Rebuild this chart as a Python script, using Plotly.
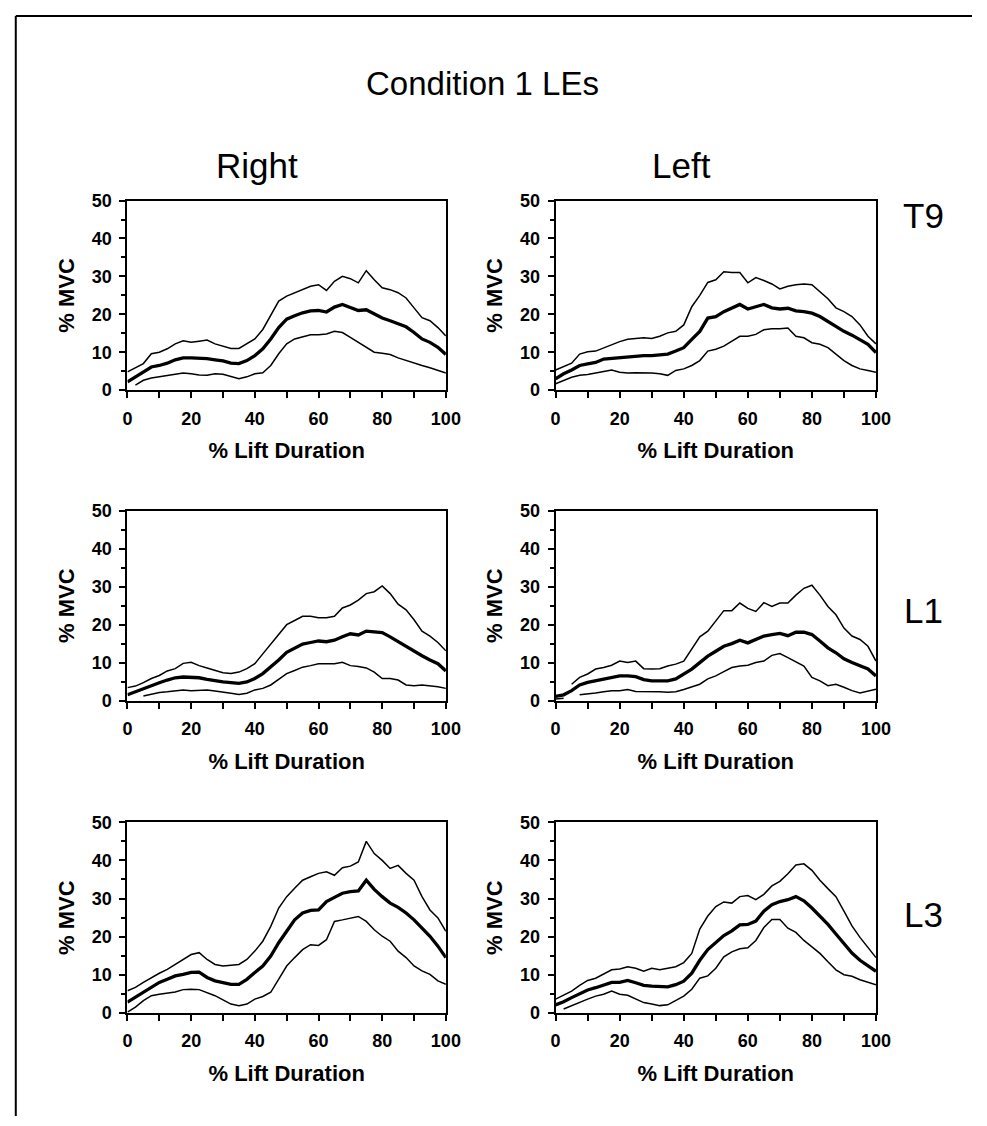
import plotly.graph_objects as go

# % lift duration sample points
lift_pct = [0, 2.5, 5, 7.5, 10, 12.5, 15, 17.5, 20, 22.5, 25, 27.5, 30, 32.5, 35, 37.5, 40,
            42.5, 45, 47.5, 50, 52.5, 55, 57.5, 60, 62.5, 65, 67.5, 70, 72.5, 75, 77.5, 80,
            82.5, 85, 87.5, 90, 92.5, 95, 97.5, 100]

# ---- Right T9 ----
right_t9_upper = [4.8, 5.8, 7.0, 9.6, 10.0, 10.9, 12.2, 13.0, 12.6, 12.9, 13.2, 12.2, 11.5, 11.0, 11.0, 12.2, 13.5,
                  16.0, 19.6, 23.5, 24.8, 25.7, 26.5, 27.4, 27.8, 26.3, 28.7, 30.0, 29.4, 28.3, 31.5, 29.1, 27.0,
                  26.5, 25.7, 24.3, 21.7, 19.1, 18.3, 16.5, 14.3]
right_t9_mean = [2.2, 3.5, 4.8, 6.1, 6.5, 7.1, 8.0, 8.5, 8.5, 8.5, 8.3, 8.0, 7.7, 7.1, 7.0, 7.8, 9.1,
                 10.9, 13.5, 16.5, 18.7, 19.6, 20.4, 20.9, 21.0, 20.6, 21.9, 22.6, 21.7, 21.0, 21.2, 20.0, 19.0,
                 18.3, 17.4, 16.7, 15.2, 13.5, 12.6, 11.3, 9.4]
right_t9_lower = [None, 1.3, 2.6, 3.2, 3.5, 3.7, 4.2, 4.5, 4.3, 4.0, 3.9, 4.3, 4.2, 3.5, 3.0, 3.5, 4.3,
                  4.6, 6.5, 9.6, 12.2, 13.5, 14.1, 14.6, 14.6, 14.8, 15.5, 15.2, 13.9, 12.6, 11.3, 10.0, 9.7,
                  9.4, 8.5, 7.8, 7.0, 6.5, 5.9, 5.2, 4.5]

# ---- Left T9 ----
left_t9_upper = [5.3, 6.2, 7.1, 9.5, 10.1, 10.3, 11.2, 12.1, 12.8, 13.4, 13.6, 13.8, 13.6, 14.2, 15.1, 15.5, 17.2,
                 22.0, 25.0, 28.4, 29.1, 31.2, 31.0, 31.0, 28.3, 29.7, 28.9, 28.0, 26.7, 27.4, 27.8, 28.0, 27.8,
                 25.9, 24.1, 21.7, 20.7, 19.4, 17.2, 14.2, 12.2]
left_t9_mean = [3.0, 4.3, 5.3, 6.5, 6.9, 7.3, 8.2, 8.4, 8.6, 8.8, 9.1, 9.1, 9.1, 9.3, 9.5, 10.3, 11.2,
                13.4, 15.5, 19.0, 19.4, 20.7, 21.6, 22.6, 21.4, 22.0, 22.6, 21.7, 21.4, 21.6, 20.9, 20.7, 20.3,
                19.4, 18.1, 16.8, 15.5, 14.5, 13.4, 12.1, 9.9]
left_t9_lower = [1.7, 2.6, 3.4, 3.9, 4.1, 4.5, 5.0, 5.3, 4.7, 4.5, 4.6, 4.6, 4.5, 4.3, 3.9, 5.2, 5.6,
                 6.5, 7.8, 10.3, 10.8, 11.6, 12.9, 14.2, 14.2, 14.7, 15.9, 16.2, 16.2, 16.4, 14.2, 13.8, 12.5,
                 12.1, 11.2, 9.5, 7.8, 6.5, 5.6, 5.2, 4.7]

# ---- Right L1 ----
right_l1_upper = [3.4, 3.8, 4.7, 5.8, 6.6, 7.8, 8.4, 9.8, 10.1, 9.2, 8.6, 7.9, 7.3, 7.1, 7.5, 8.4, 9.7,
                  12.3, 14.9, 17.4, 20.0, 21.1, 22.2, 22.2, 21.8, 21.8, 22.2, 24.4, 25.2, 26.5, 28.2, 28.7, 30.2,
                  28.2, 25.4, 23.9, 21.3, 18.3, 17.0, 15.3, 13.1]
right_l1_mean = [1.5, 2.3, 3.2, 4.1, 4.7, 5.4, 6.0, 6.2, 6.2, 6.0, 5.6, 5.2, 4.9, 4.7, 4.5, 4.9, 5.8,
                 7.1, 8.8, 10.7, 12.7, 13.8, 14.9, 15.3, 15.7, 15.5, 15.9, 16.8, 17.6, 17.3, 18.3, 18.1, 17.9,
                 16.8, 15.5, 14.4, 13.1, 11.8, 10.7, 9.7, 7.8]
right_l1_lower = [None, None, 1.2, 1.7, 2.1, 2.3, 2.6, 2.8, 2.6, 2.8, 2.8, 2.5, 2.1, 1.9, 1.6, 1.9, 2.8,
                  3.2, 4.1, 5.5, 7.1, 7.9, 8.8, 9.2, 9.7, 9.7, 9.7, 10.1, 9.2, 9.0, 8.6, 7.5, 5.8,
                  5.8, 5.4, 4.1, 3.9, 4.1, 3.9, 3.6, 3.2]

# ---- Left L1 ----
left_l1_upper = [None, None, 4.3, 6.1, 7.0, 8.3, 8.7, 9.3, 10.4, 10.0, 10.4, 8.4, 8.3, 8.4, 9.1, 9.6, 10.4,
                 13.5, 16.8, 18.3, 20.9, 23.7, 23.7, 25.7, 24.3, 23.5, 25.8, 24.8, 25.7, 25.7, 27.8, 29.6, 30.4,
                 27.8, 24.8, 22.6, 19.1, 17.0, 16.1, 14.3, 10.4]
left_l1_mean = [1.1, 1.5, 2.6, 4.1, 4.8, 5.2, 5.7, 6.1, 6.5, 6.5, 6.3, 5.5, 5.2, 5.2, 5.2, 5.7, 7.0,
                8.3, 10.0, 11.7, 13.0, 14.3, 15.0, 15.9, 15.2, 16.1, 17.0, 17.4, 17.7, 17.1, 18.0, 18.0, 17.4,
                15.7, 13.9, 12.6, 11.0, 10.0, 9.1, 8.3, 6.5]
left_l1_lower = [0.4, 0.6, None, 1.5, 1.7, 2.0, 2.3, 2.6, 2.6, 2.9, 2.4, 2.4, 2.3, 2.3, 2.2, 2.3, 2.9,
                 3.5, 4.3, 5.7, 6.5, 7.6, 8.7, 9.1, 9.3, 10.0, 10.4, 11.9, 12.4, 11.3, 10.2, 9.1, 6.1,
                 5.2, 3.9, 4.3, 3.5, 2.6, 2.0, 2.6, 3.0]

# ---- Right L3 ----
right_l3_upper = [5.8, 6.7, 8.0, 9.3, 10.4, 11.4, 12.7, 14.2, 15.3, 15.8, 14.0, 12.7, 12.3, 12.5, 12.7, 14.0, 16.2,
                  18.8, 22.7, 27.5, 30.5, 32.7, 34.8, 35.7, 36.6, 37.0, 36.1, 38.1, 38.5, 39.6, 45.0, 41.8, 40.0,
                  37.9, 38.7, 36.6, 34.8, 30.5, 27.0, 24.9, 21.4]
right_l3_mean = [2.8, 4.1, 5.5, 6.7, 8.0, 8.8, 9.7, 10.1, 10.6, 10.7, 9.3, 8.4, 8.0, 7.5, 7.5, 8.8, 10.6,
                 12.3, 14.9, 18.4, 21.4, 24.4, 26.2, 26.9, 27.0, 29.2, 30.3, 31.4, 31.8, 32.0, 34.8, 32.4, 30.5,
                 28.8, 27.7, 26.2, 24.4, 22.3, 20.1, 17.5, 14.5]
right_l3_lower = [0.2, 1.5, 3.2, 4.5, 4.9, 5.2, 5.5, 6.1, 6.2, 6.1, 5.4, 4.5, 3.4, 2.3, 1.9, 2.3, 3.6,
                  4.3, 5.4, 8.8, 12.3, 14.5, 16.6, 17.9, 17.7, 19.2, 24.0, 24.4, 24.9, 25.3, 24.0, 21.8, 20.1,
                  18.8, 16.2, 14.5, 12.3, 11.0, 10.1, 8.4, 7.5]

# ---- Left L3 ----
left_l3_upper = [3.6, 4.6, 5.7, 7.2, 8.5, 9.1, 10.3, 11.3, 11.5, 12.1, 11.7, 10.9, 11.7, 11.3, 11.7, 12.1, 13.2,
                 15.6, 22.0, 25.4, 27.9, 29.1, 28.8, 30.5, 30.8, 29.7, 31.1, 33.3, 34.5, 36.5, 38.8, 39.1, 37.4,
                 34.8, 32.6, 30.5, 26.7, 22.8, 19.8, 17.3, 14.5]
left_l3_mean = [2.1, 2.9, 4.0, 5.0, 6.0, 6.6, 7.2, 8.0, 8.0, 8.5, 7.9, 7.2, 7.0, 6.8, 6.8, 7.4, 8.3,
                10.4, 13.8, 16.6, 18.5, 20.3, 21.5, 23.1, 23.2, 24.1, 26.7, 28.4, 29.2, 29.7, 30.5, 29.4, 27.5,
                25.4, 23.2, 20.7, 18.1, 15.7, 13.8, 12.3, 10.9]
left_l3_lower = [None, 1.0, 1.9, 2.9, 3.6, 4.4, 4.9, 5.7, 4.9, 4.6, 3.6, 2.7, 2.3, 1.9, 2.1, 3.2, 4.4,
                 6.2, 9.1, 9.7, 11.7, 14.7, 16.0, 16.8, 17.1, 19.0, 22.4, 24.5, 24.5, 22.2, 21.1, 19.0, 17.3,
                 15.6, 13.4, 11.3, 10.0, 9.6, 8.7, 8.0, 7.4]

panels = [
    (right_t9_upper, right_t9_mean, right_t9_lower),
    (left_t9_upper, left_t9_mean, left_t9_lower),
    (right_l1_upper, right_l1_mean, right_l1_lower),
    (left_l1_upper, left_l1_mean, left_l1_lower),
    (right_l3_upper, right_l3_mean, right_l3_lower),
    (left_l3_upper, left_l3_mean, left_l3_lower),
]

W, H = 987, 1126
col_px = [(125, 450), (562, 889)]
row_px = [(194, 387), (510, 703), (827, 1021)]


def px_x(sx):
    return sx / W


def px_y(sy):
    return 1 - sy / H


fig = go.Figure()
FONT = "Liberation Sans, Arial, sans-serif"
TICKFONT = dict(family=FONT, size=18, color="black", weight="bold")
TITLEFONT = dict(family=FONT, size=22, color="black", weight="bold")

for i, (up, mn, lo) in enumerate(panels):
    r, c = divmod(i, 2)
    n = i + 1
    xa = "x" if n == 1 else f"x{n}"
    ya = "y" if n == 1 else f"y{n}"
    for vals, w in ((up, 1.5), (mn, 3.3), (lo, 1.5)):
        fig.add_trace(go.Scatter(x=lift_pct, y=vals, mode="lines", xaxis=xa, yaxis=ya,
                                 line=dict(color="black", width=w), connectgaps=False,
                                 showlegend=False, hoverinfo="skip"))
    x0, x1 = col_px[c]
    y0, y1 = row_px[r]
    xkey = "xaxis" if n == 1 else f"xaxis{n}"
    ykey = "yaxis" if n == 1 else f"yaxis{n}"
    fig.layout[xkey] = dict(
        domain=[px_x(x0), px_x(x1)], anchor=ya, range=[0, 100], dtick=20, tick0=0,
        ticks="outside", ticklen=6, tickwidth=2, tickcolor="black",
        minor=dict(dtick=10, ticks="outside", ticklen=6, tickwidth=2, tickcolor="black"),
        showline=True, linecolor="black", linewidth=2, mirror=True, showgrid=False, zeroline=False,
        tickfont=TICKFONT, ticklabelstandoff=5,
        title=dict(text="% Lift Duration", font=TITLEFONT, standoff=15),
    )
    fig.layout[ykey] = dict(
        domain=[px_y(y1), px_y(y0)], anchor=xa, range=[0, 50], dtick=10, tick0=0,
        ticks="outside", ticklen=6, tickwidth=2, tickcolor="black",
        minor=dict(dtick=5, ticks="outside", ticklen=4, tickwidth=2, tickcolor="black"),
        showline=True, linecolor="black", linewidth=2, mirror=True, showgrid=False, zeroline=False,
        tickfont=TICKFONT, ticklabelstandoff=4,
        title=dict(text="% MVC", font=TITLEFONT, standoff=11),
    )

title_font = dict(family=FONT, size=33, color="black")
label_font = dict(family=FONT, size=35, color="black")
annotations = [
    dict(text="Condition 1 LEs", x=px_x(487), y=px_y(75), font=title_font),
    dict(text="Right", x=px_x(257), y=px_y(158), font=label_font),
    dict(text="Left", x=px_x(690), y=px_y(158), font=label_font),
    dict(text="T9", x=px_x(937), y=px_y(209), font=label_font),
    dict(text="L1", x=px_x(937), y=px_y(611), font=label_font),
    dict(text="L3", x=px_x(937), y=px_y(921), font=label_font),
]
for a in annotations:
    a.update(xref="paper", yref="paper", showarrow=False, xanchor="center", yanchor="middle")

fig.update_layout(
    width=W, height=H, margin=dict(l=0, r=0, t=0, b=0),
    paper_bgcolor="white", plot_bgcolor="white",
    annotations=annotations,
    shapes=[
        dict(type="line", xref="paper", yref="paper", x0=px_x(11), x1=1, y0=px_y(6), y1=px_y(6),
             line=dict(color="black", width=2)),
        dict(type="line", xref="paper", yref="paper", x0=px_x(11), x1=px_x(11), y0=0, y1=px_y(6),
             line=dict(color="black", width=2)),
    ],
)

fig.write_html("out.html")
